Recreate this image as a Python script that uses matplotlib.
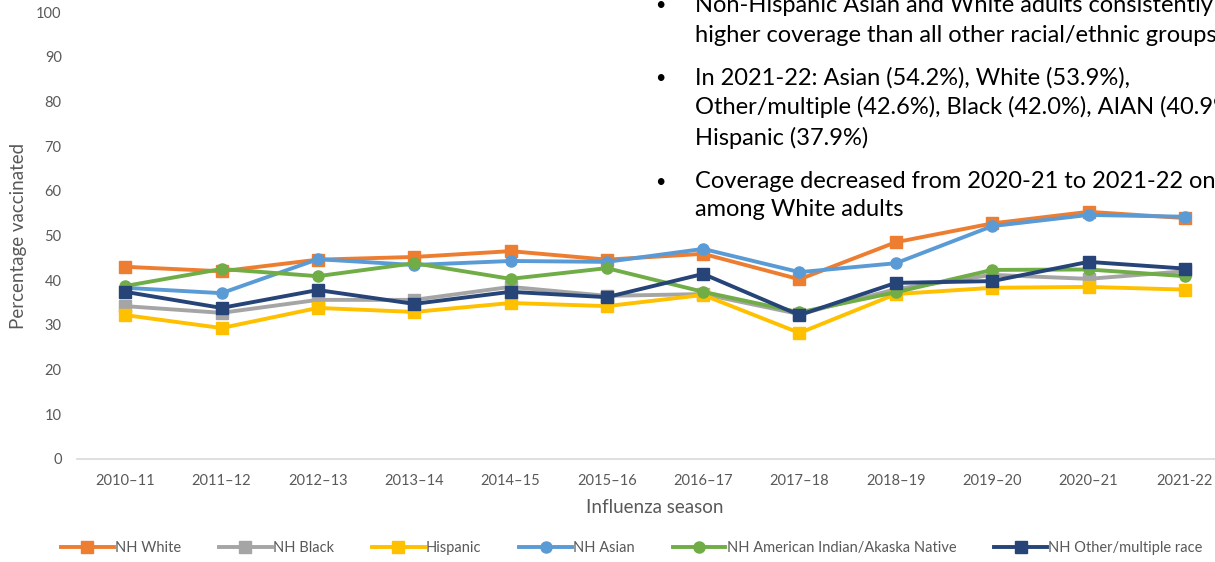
import matplotlib
matplotlib.use("Agg")
from matplotlib import pyplot as plt

plt.rcParams["font.family"] = ["Lato", "DejaVu Sans"]

seasons = ["2010–11", "2011–12", "2012–13", "2013–14", "2014–15", "2015–16",
           "2016–17", "2017–18", "2018–19", "2019–20", "2020–21", "2021-22"]

nh_white = [43.0, 42.0, 44.6, 45.2, 46.5, 44.6, 45.9, 40.2, 48.5, 52.7, 55.3, 53.9]
nh_black = [34.2, 32.7, 35.6, 35.6, 38.5, 36.5, 36.9, 32.4, 38.0, 41.2, 40.3, 42.0]
hispanic = [32.2, 29.3, 33.8, 32.9, 34.9, 34.2, 36.7, 28.2, 36.9, 38.3, 38.5, 37.9]
nh_asian = [38.3, 37.1, 44.7, 43.4, 44.3, 44.1, 47.0, 41.8, 43.8, 52.1, 54.6, 54.2]
nh_aian = [38.7, 42.5, 40.9, 43.8, 40.3, 42.7, 37.4, 32.8, 37.3, 42.3, 42.4, 40.9]
nh_other = [37.4, 33.8, 37.8, 34.7, 37.4, 36.2, 41.4, 32.2, 39.4, 39.8, 44.1, 42.6]

series = [
    ("NH White", nh_white, "#ed7d31", "s"),
    ("NH Black", nh_black, "#a5a5a5", "s"),
    ("Hispanic", hispanic, "#ffc000", "s"),
    ("NH Asian", nh_asian, "#5b9bd5", "o"),
    ("NH American Indian/Akaska Native", nh_aian, "#70ad47", "o"),
    ("NH Other/multiple race", nh_other, "#264478", "s"),
]

notes = [
    ["Non-Hispanic Asian and White adults consistently had",
     "higher coverage than all other racial/ethnic groups"],
    ["In 2021-22: Asian (54.2%), White (53.9%),",
     "Other/multiple (42.6%), Black (42.0%), AIAN (40.9%),",
     "Hispanic (37.9%)"],
    ["Coverage decreased from 2020-21 to 2021-22 only",
     "among White adults"],
]
note_rows = [[5, 35], [78, 107, 138], [182, 210]]  # line centres, px from top

W, H = 1215, 562
fig = plt.figure(figsize=(W / 100, H / 100), dpi=100)
ax = fig.add_axes([77 / W, 103 / H, 1156 / W, 447 / H])

x = range(len(seasons))
for label, vals, color, marker in series:
    ax.plot(x, vals, color=color, marker=marker, markersize=8, linewidth=2.8,
            label=label, zorder=3)

ax.set_xlim(-0.5, len(seasons) - 0.5)
ax.set_ylim(0, 100)
ax.set_yticks(range(0, 101, 10))
ax.set_xticks(list(x))
ax.set_xticklabels(seasons)
ax.tick_params(axis="both", length=0, labelsize=10.5, labelcolor="#595959")
ax.tick_params(axis="x", pad=11)
ax.tick_params(axis="y", pad=11)
for s in ["top", "right", "left"]:
    ax.spines[s].set_visible(False)
ax.spines["bottom"].set_color("#d9d9d9")
ax.spines["bottom"].set_linewidth(1.2)

ax.set_xlabel("Influenza season", fontsize=13.5, color="#595959", labelpad=8)
ax.yaxis.set_label_coords(-50 / 1156, 0.5 + 9 / 447)
ax.set_ylabel("Percentage vaccinated", fontsize=13.5, color="#595959")

ax.legend(loc="center", bbox_to_anchor=(0.5 - 23 / 1156, -89 / 447), ncol=6,
          frameon=False, fontsize=10.5, labelcolor="#595959", handlelength=3.6,
          handletextpad=0.1, columnspacing=2.6)

# bullet text in the upper right
for lines, rows in zip(notes, note_rows):
    fig.text(655 / W, 1 - rows[0] / H, "•", fontsize=13, va="center",
             ha="left", color="black")
    for line, yp in zip(lines, rows):
        fig.text(695 / W, 1 - yp / H, line, fontsize=17, va="center",
                 ha="left", color="black")

fig.savefig("out.png", dpi=100)
